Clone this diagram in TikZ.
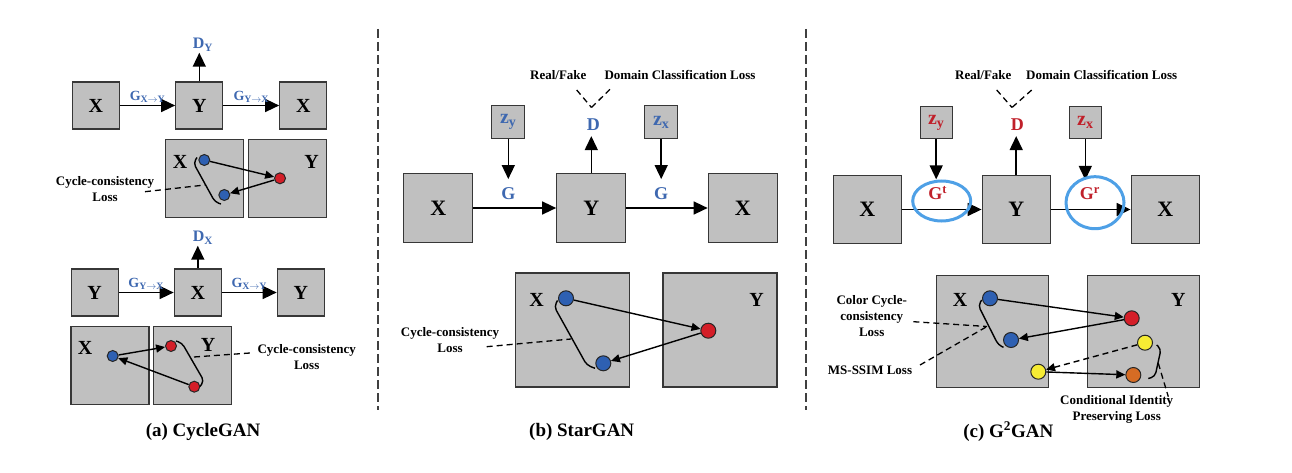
\documentclass[tikz,border=0pt]{standalone}
\usepackage{fontspec}
\setmainfont{Liberation Serif}
\usetikzlibrary{arrows.meta}

\definecolor{boxgray}{RGB}{192,192,192}
\definecolor{edgegray}{RGB}{55,55,55}
\definecolor{lblblue}{RGB}{62,104,176}
\definecolor{lblred}{RGB}{192,32,42}
\definecolor{dotblue}{RGB}{46,96,178}
\definecolor{dotred}{RGB}{212,30,40}
\definecolor{dotyellow}{RGB}{246,236,52}
\definecolor{dotorange}{RGB}{214,108,36}
\definecolor{ringblue}{RGB}{78,160,230}

\newcommand{\fsz}[1]{\bfseries\fontsize{#1}{#1}\selectfont}

\begin{document}
\begin{tikzpicture}[x=1pt,y=-1pt,
    box/.style={draw=edgegray, fill=boxgray, line width=1.3pt, inner sep=0pt, font=\fsz{20}},
    dot/.style={circle, draw=black!85, line width=1pt, inner sep=0pt},
    arr/.style={line width=1.5pt, -{Triangle[length=14pt,width=13pt]}},
    darr/.style={line width=1.4pt, -{Triangle[length=9pt,width=8pt]}},
    brk/.style={line width=1.4pt, rounded corners=4pt},
    lossln/.style={line width=1.3pt, dash pattern=on 6pt off 4pt},
    note/.style={font=\bfseries\fontsize{13}{16}\selectfont, align=center, inner sep=0pt},
    gen/.style={font=\fsz{14}, inner sep=2pt},
    captxt/.style={font=\fsz{19}},
    ring/.style={draw=ringblue, line width=3pt},
    sepline/.style={draw=black!75, line width=1.2pt, dash pattern=on 9pt off 4pt}
]
\useasboundingbox (0,0) rectangle (1292,473);

% separators
\draw[sepline] (378,29) -- (378,410);
\draw[sepline] (806,29) -- (806,410);

% (a) CycleGAN, X -> Y -> X
\node[box, minimum size=47] (aX1) at (95.8,105.5) {X};
\node[box, minimum size=47] (aY1) at (199.3,105.5) {Y};
\node[box, minimum size=47] (aX2) at (303.3,105.5) {X};
\node[font=\fsz{16}, text=lblblue, inner sep=1pt] (aDY) at (203,45) {D\textsubscript{Y}};
\draw[arr] (aX1) -- node[gen, above, text=lblblue] {G\textsubscript{X$\rightarrow$Y}} (aY1);
\draw[arr] (aY1) -- node[gen, above, text=lblblue] {G\textsubscript{Y$\rightarrow$X}} (aX2);
\draw[arr] (aY1.north) -- (aY1.north |- aDY.south);

\node[box, minimum size=78] (aPX1) at (204.5,178.3) {};
\node[box, minimum size=78] (aPY1) at (287.8,178.3) {};
\node[font=\fsz{20}] (aPX1l) at (180,161.7) {X};
\node[font=\fsz{20}] (aPY1l) at (311.7,161.7) {Y};
\node[dot, fill=dotblue, minimum size=11] (ab1) at (204.3,160) {};
\node[dot, fill=dotred, minimum size=11] (ar1) at (280,178.3) {};
\node[dot, fill=dotblue, minimum size=11] (ab2) at (224.3,195) {};
\draw[darr] (ab1) -- (ar1);
\draw[darr] (ar1) -- (ab2);
\draw[brk] (197,157.5) -- (193.5,163) -- (215,202) -- (221,204);
\coordinate (aBrk1) at (205,185);
\coordinate (aLs1) at (145,191.7);
\draw[lossln] (aLs1) -- (aBrk1);
\node[note] (aCyc1) at (105,188.7) {Cycle-consistency\\Loss};

% (a) CycleGAN, Y -> X -> Y
\node[box, minimum size=47] (aY2) at (94.7,292.5) {Y};
\node[box, minimum size=47] (aX3) at (197.8,292.5) {X};
\node[box, minimum size=47] (aY3) at (300.8,292.5) {Y};
\node[font=\fsz{16}, text=lblblue, inner sep=1pt] (aDX) at (203,238) {D\textsubscript{X}};
\draw[arr] (aY2) -- node[gen, above, text=lblblue] {G\textsubscript{Y$\rightarrow$X}} (aX3);
\draw[arr] (aX3) -- node[gen, above, text=lblblue] {G\textsubscript{X$\rightarrow$Y}} (aY3);
\draw[arr] (aX3.north) -- (aX3.north |- aDX.south);

\node[box, minimum size=78] (aPX2) at (110,365.5) {};
\node[box, minimum size=78] (aPY2) at (192.8,365.5) {};
\node[font=\fsz{20}] (aPX2l) at (85,348) {X};
\node[font=\fsz{20}] (aPY2l) at (208,345) {Y};
\node[dot, fill=dotblue, minimum size=11] (ab3) at (112.7,356) {};
\node[dot, fill=dotred, minimum size=11] (ar2) at (171,346) {};
\node[dot, fill=dotred, minimum size=11] (ar3) at (194.3,386.7) {};
\draw[darr] (ab3) -- (ar2);
\draw[darr] (ar3) -- (ab3);
\draw[brk] (176,341) -- (182,343) -- (204,381) -- (200,386.5);
\coordinate (aBrk2) at (194,357);
\coordinate (aLs2) at (250,353);
\draw[lossln] (aBrk2) -- (aLs2);
\node[note] (aCyc2) at (306.7,356.7) {Cycle-consistency\\Loss};

\node[captxt] (aCap) at (203,431.7) {(a) CycleGAN};

% (b) StarGAN
\node[box, minimum size=69, font=\fsz{22}] (bX1) at (438.3,208) {X};
\node[box, minimum size=69, font=\fsz{22}] (bY1) at (591.3,208) {Y};
\node[box, minimum size=69, font=\fsz{22}] (bX2) at (742.8,208) {X};
\node[box, minimum size=33, font=\fsz{20}, text=lblblue] (bZy) at (508.3,122.2) {z\textsubscript{y}};
\node[box, minimum size=33, font=\fsz{20}, text=lblblue] (bZx) at (661.2,122.2) {z\textsubscript{x}};
\node[font=\fsz{18}, text=lblblue, inner sep=1pt] (bG1) at (508.3,193.3) {G};
\node[font=\fsz{18}, text=lblblue, inner sep=1pt] (bG2) at (661.2,193.3) {G};
\node[font=\fsz{18}, text=lblblue, inner sep=1pt] (bD) at (593.3,125) {D};
\draw[arr] (bX1) -- (bY1);
\draw[arr] (bY1) -- (bX2);
\draw[arr, shorten >=7pt] (bZy) -- (bG1);
\draw[arr, shorten >=7pt] (bZx) -- (bG2);
\draw[arr, shorten >=4pt] (bY1.north) -- (bY1.north |- bD.south);
\node[note] (bRF) at (558.3,75) {Real/Fake};
\node[note] (bDC) at (680,75) {Domain Classification Loss};
\coordinate (bRFe) at (576.7,90);
\coordinate (bDCe) at (610,89.3);
\coordinate (bV) at (591.5,107.5);
\draw[lossln] (bRFe) -- (bV);
\draw[lossln] (bDCe) -- (bV);

\node[box, minimum size=114] (bPX) at (572.2,330) {};
\node[box, minimum size=114] (bPY) at (720,330) {};
\node[font=\fsz{20}] (bPXl) at (536.7,300) {X};
\node[font=\fsz{20}] (bPYl) at (756.7,300) {Y};
\node[dot, fill=dotblue, minimum size=15] (bb1) at (566,298.3) {};
\node[dot, fill=dotred, minimum size=15] (br1) at (708.3,330.7) {};
\node[dot, fill=dotblue, minimum size=15] (bb2) at (603.3,363.3) {};
\draw[darr] (bb1) -- (br1);
\draw[darr] (br1) -- (bb2);
\draw[brk] (557.5,300.5) -- (554.3,306.7) -- (586.7,365) -- (595,368.3);
\coordinate (bBrk) at (571,339);
\coordinate (bLs) at (486.7,346.7);
\draw[lossln] (bLs) -- (bBrk);
\node[note] (bCyc) at (450,340) {Cycle-consistency\\Loss};

\node[captxt] (bCap) at (581.7,431.7) {(b) StarGAN};

% (c) G2GAN
\node[box, minimum size=68, font=\fsz{22}] (cX1) at (867.2,209.5) {X};
\node[box, minimum size=68, font=\fsz{22}] (cY1) at (1016.2,209.5) {Y};
\node[box, minimum size=68, font=\fsz{22}] (cX2) at (1165.2,209.5) {X};
\node[box, minimum size=32, font=\fsz{20}, text=lblred] (cZy) at (936.2,122.5) {z\textsubscript{y}};
\node[box, minimum size=32, font=\fsz{20}, text=lblred] (cZx) at (1085.3,122.2) {z\textsubscript{x}};
\node[font=\fsz{18}, text=lblred, inner sep=1pt] (cGt) at (937.7,193.3) {G\textsuperscript{t}};
\node[font=\fsz{18}, text=lblred, inner sep=1pt] (cGr) at (1090,193.3) {G\textsuperscript{r}};
\node[font=\fsz{18}, text=lblred, inner sep=1pt] (cD) at (1017.3,125) {D};
\draw[arr] (cX1) -- (cY1);
\draw[arr] (cY1) -- (cX2);
\draw[arr, shorten >=6pt] (cZy) -- (cZy |- cGt.north);
\draw[arr, shorten >=6pt] (cZx) -- (cZx |- cGr.north);
\draw[arr, shorten >=4pt] (cY1.north) -- (cY1.north |- cD.south);
\draw[ring] (941.7,201) ellipse [x radius=29, y radius=20];
\draw[ring] (1095,202.7) ellipse [x radius=29, y radius=26];
\node[note] (cRF) at (983.3,75) {Real/Fake};
\node[note] (cDC) at (1101.7,75) {Domain Classification Loss};
\coordinate (cRFe) at (996.7,90);
\coordinate (cDCe) at (1031.7,90);
\coordinate (cV) at (1012,107.5);
\draw[lossln] (cRFe) -- (cV);
\draw[lossln] (cDCe) -- (cV);

\node[box, minimum size=112] (cPX) at (992.2,331.5) {};
\node[box, minimum size=112] (cPY) at (1143.2,331.5) {};
\node[font=\fsz{20}] (cPXl) at (960,300) {X};
\node[font=\fsz{20}] (cPYl) at (1178.3,300) {Y};
\node[dot, fill=dotblue, minimum size=15] (cb1) at (990,298.3) {};
\node[dot, fill=dotred, minimum size=15] (cr1) at (1131.7,318.3) {};
\node[dot, fill=dotblue, minimum size=15] (cb2) at (1011,340) {};
\node[dot, fill=dotyellow, minimum size=15] (cy1) at (1145,342.7) {};
\node[dot, fill=dotyellow, minimum size=15] (cy2) at (1038.3,371.7) {};
\node[dot, fill=dotorange, minimum size=15] (co1) at (1133.3,375) {};
\draw[darr] (cb1) -- (cr1);
\draw[darr] (cr1) -- (cb2);
\draw[darr, dash pattern=on 6pt off 4pt] (cy1) -- (cy2);
\draw[darr] (cy2) -- (co1);
\draw[brk] (981.7,300) -- (978.3,305.5) -- (998.3,345) -- (1003.5,347.3);
\draw[brk] (1156.7,345) -- (1161,349) -- (1155,376.5) -- (1148.3,378.5);
\coordinate (cBrkL) at (987,326.5);
\coordinate (cBrkR) at (1158.3,363.3);
\coordinate (cLsCol) at (913.3,321.7);
\coordinate (cLsMs) at (920,365);
\coordinate (cLsCi) at (1168.3,396.7);
\draw[lossln] (cLsCol) -- (cBrkL);
\draw[lossln] (cLsMs) -- (cBrkL);
\draw[lossln] (cBrkR) -- (cLsCi);
\node[note] (cCol) at (871.7,316) {Color Cycle-\\consistency\\Loss};
\node[note] (cMs) at (870,370) {MS-SSIM Loss};
\node[note] (cCi) at (1116.7,409.5) {Conditional Identity\\Preserving Loss};

\node[captxt] (cCap) at (1008.3,431.7) {(c) G\textsuperscript{2}GAN};

\end{tikzpicture}
\end{document}
